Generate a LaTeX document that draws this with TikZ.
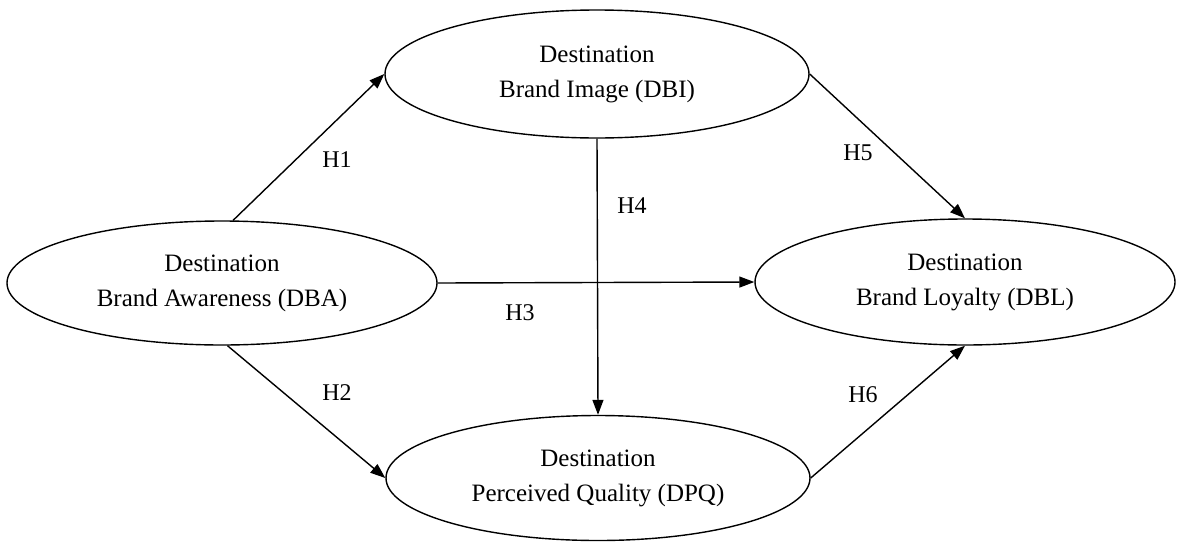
\documentclass[tikz,border=0pt]{standalone}
\usepackage{fontspec}
\setmainfont{Liberation Serif}
\usepackage{tikz}
\usetikzlibrary{shapes.geometric,arrows.meta}
\def\ElW{424pt}
\def\ElH{128pt}

\begin{document}
\begin{tikzpicture}[x=1pt,y=-1pt,
		construct/.style={ellipse,draw,line width=1.4pt,minimum width=\ElW,minimum height=\ElH,inner sep=0pt,align=center,font=\fontsize{25}{35}\selectfont},
		hyp/.style={line width=1.4pt,-{Triangle[length=15pt,width=11pt]}},
		hlabel/.style={font=\fontsize{24}{28}\selectfont}]
			\useasboundingbox (0,0) rectangle (1177,544);
			\node[construct] (dbi) at (597,74) {Destination\\Brand Image (DBI)};
			\node[construct,minimum width=430pt,minimum height=124pt] (dba) at (222,283) {Destination\\Brand Awareness (DBA)};
			\node[construct,minimum width=420pt,minimum height=126pt] (dbl) at (965,282) {Destination\\Brand Loyalty (DBL)};
			\node[construct,minimum height=125pt] (dpq) at (598,478) {Destination\\Perceived Quality (DPQ)};
			% 
			\node[hlabel] (h1) at (337,160) {H1};
			\node[hlabel] (h2) at (337,393) {H2};
			\node[hlabel] (h3) at (520,313) {H3};
			\node[hlabel] (h4) at (632,206) {H4};
			\node[hlabel] (h5) at (858,153) {H5};
			\node[hlabel] (h6) at (863,395) {H6};
			% 
			\draw[hyp] (dba.80) -- (dbi.west);
			\draw[hyp] (dba.-85) -- (dpq.west);
			\draw[hyp] (dba.east) -- (dbl.west);
			\draw[hyp] (dbi.south) -- (dpq.north);
			\draw[hyp] (dbi.east) -- (dbl.north);
			\draw[hyp] (dpq.east) -- (dbl.south);
		\end{tikzpicture}
\end{document}
